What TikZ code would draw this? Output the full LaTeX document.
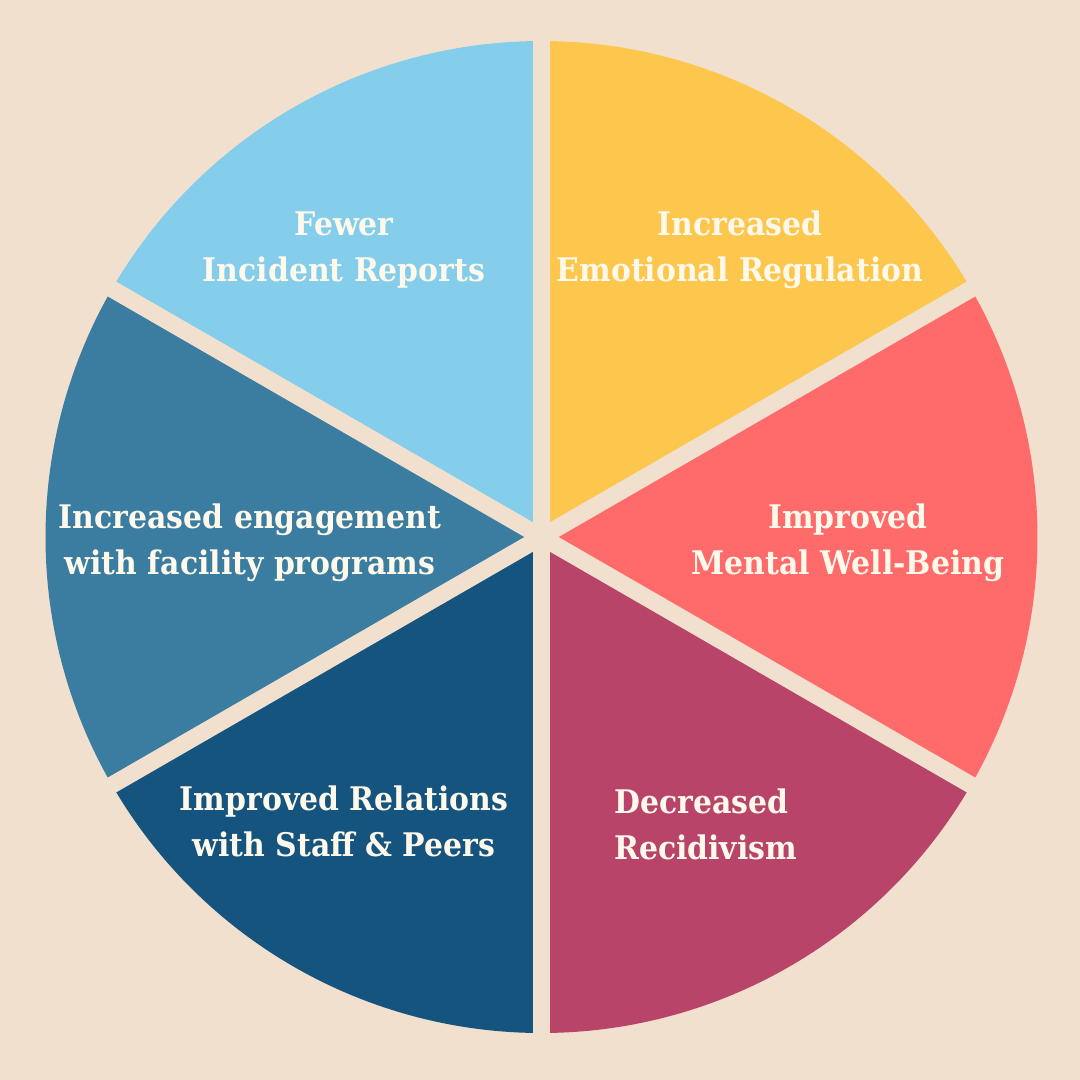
\documentclass[tikz,border=0pt]{standalone}
\usepackage{fontspec}
\setmainfont{DejaVu Serif}[FakeStretch=0.92]
\usetikzlibrary{calc}
\definecolor{bgc}{HTML}{F2E0CF}
\definecolor{skyc}{HTML}{84CEEB}
\definecolor{yelc}{HTML}{FDC74E}
\definecolor{coralc}{HTML}{FF6B6B}
\definecolor{crimc}{HTML}{B8446A}
\definecolor{navyc}{HTML}{15547E}
\definecolor{steelc}{HTML}{3A7DA0}
\definecolor{txtc}{HTML}{FFF9EC}
\begin{document}
\begin{tikzpicture}[x=1pt,y=1pt,
  lbl/.style={text=txtc, inner sep=0pt, align=center, font=\fontsize{32.5}{46}\selectfont\bfseries},
  gapline/.style={draw=bgc, line width=17pt}]
\fill[bgc] (0,0) rectangle (1080,-1080);
\useasboundingbox (0,0) rectangle (1080,-1080);
\coordinate (C) at (541.5,-537);
\def\R{496}
\fill[yelc]   (C) -- ++(30:\R) arc[start angle=30, end angle=90, radius=\R] -- cycle;
\fill[skyc]   (C) -- ++(90:\R) arc[start angle=90, end angle=150, radius=\R] -- cycle;
\fill[steelc] (C) -- ++(150:\R) arc[start angle=150, end angle=210, radius=\R] -- cycle;
\fill[navyc]  (C) -- ++(210:\R) arc[start angle=210, end angle=270, radius=\R] -- cycle;
\fill[crimc]  (C) -- ++(270:\R) arc[start angle=270, end angle=330, radius=\R] -- cycle;
\fill[coralc] (C) -- ++(330:\R) arc[start angle=330, end angle=390, radius=\R] -- cycle;
\coordinate (g1a) at ($(C)+(90:520)$);
\coordinate (g1b) at ($(C)+(270:520)$);
\coordinate (g2a) at ($(C)+(30:520)$);
\coordinate (g2b) at ($(C)+(210:520)$);
\coordinate (g3a) at ($(C)+(150:520)$);
\coordinate (g3b) at ($(C)+(330:520)$);
\draw[gapline] (g1a) -- (g1b);
\draw[gapline] (g2a) -- (g2b);
\draw[gapline] (g3a) -- (g3b);
\node[lbl] (t1) at (344,-250) {Fewer\\Incident Reports};
\node[lbl] (t2) at (740,-250) {Increased\\Emotional Regulation};
\node[lbl] (t3) at (848,-543) {Improved\\Mental Well-Being};
\node[lbl, align=left, anchor=west] (t4) at (614,-824) {Decreased\\Recidivism};
\node[lbl] (t5) at (344,-821) {Improved Relations\\with Staff \& Peers};
\node[lbl] (t6) at (250,-543) {Increased engagement\\with facility programs};
\end{tikzpicture}
\end{document}
